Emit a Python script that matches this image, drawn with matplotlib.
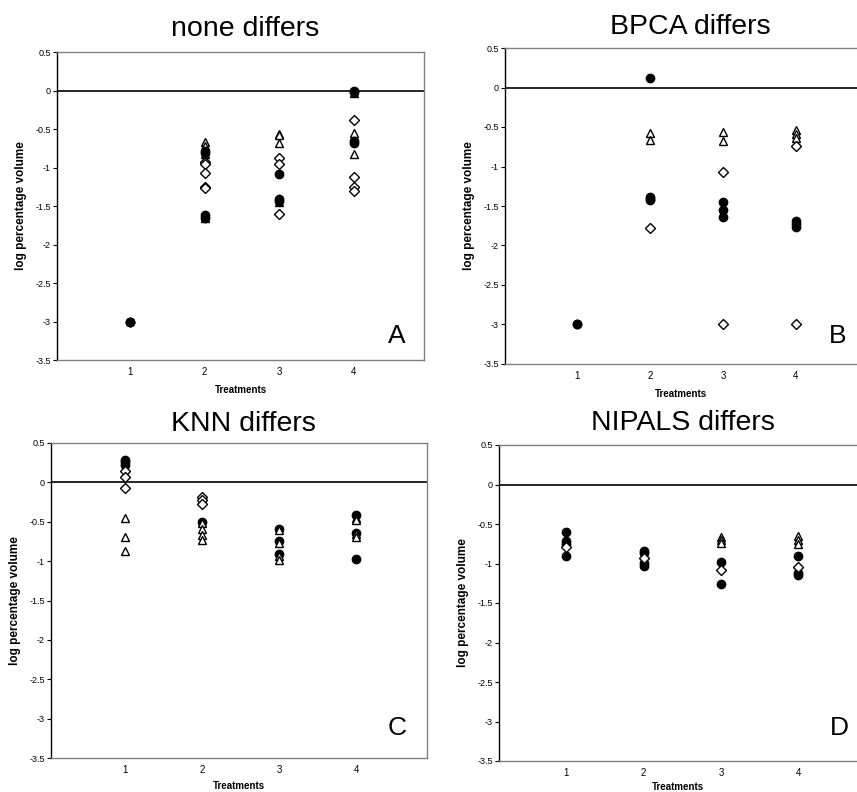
import matplotlib
matplotlib.use("Agg")
import matplotlib.pyplot as plt

plt.rcParams['font.family'] = ['Liberation Sans', 'DejaVu Sans']
plt.rcParams['axes.unicode_minus'] = False

# values per treatment (1..4)
treatments = [1, 2, 3, 4]
yticks = [0.5, 0, -0.5, -1, -1.5, -2, -2.5, -3, -3.5]
ytick_labels = ["0.5", "0", "-0.5", "-1", "-1.5", "-2", "-2.5", "-3", "-3.5"]

titles = ["none differs", "BPCA differs", "KNN differs", "NIPALS differs"]
letters = ["A", "B", "C", "D"]

# panel A - none differs
a_circles = [[-3.0, -3.0, -3.0], [-0.78, -0.81, -1.62, -1.65], [-1.08, -1.41, -1.44], [0.0, -0.02, -0.66, -0.68]]
a_diamonds = [[], [-0.93, -0.95, -1.07, -1.25, -1.27], [-0.88, -0.95, -1.6], [-0.38, -1.12, -1.25, -1.3]]
a_triangles = [[], [-0.67, -0.72, -0.83, -1.66], [-0.56, -0.58, -0.68, -1.45], [-0.55, -0.83, -0.03]]

# panel B - BPCA differs
b_circles = [[-3.0, -3.0], [0.12, -1.38, -1.41, -1.43], [-1.45, -1.55, -1.64], [-1.69, -1.73, -1.76]]
b_diamonds = [[], [-1.78], [-1.07, -3.0], [-0.74, -3.0]]
b_triangles = [[], [-0.58, -0.66], [-0.56, -0.68], [-0.54, -0.59, -0.64]]

# panel C - KNN differs
c_circles = [[0.29, 0.26, 0.22], [-0.5], [-0.59, -0.74, -0.91], [-0.42, -0.64, -0.97]]
c_diamonds = [[0.14, 0.07, -0.07], [-0.18, -0.23, -0.28], [], []]
c_triangles = [[-0.45, -0.69, -0.87], [-0.52, -0.59, -0.67, -0.73], [-0.61, -0.77, -0.94, -0.99], [-0.45, -0.48, -0.66, -0.69]]

# panel D - NIPALS differs
d_circles = [[-0.6, -0.72, -0.75, -0.91], [-0.84, -0.87, -0.99, -1.03], [-0.98, -1.26], [-0.9, -1.12, -1.15]]
d_diamonds = [[-0.79], [-0.93], [-1.08], [-1.05]]
d_triangles = [[], [], [-0.66, -0.7, -0.74], [-0.65, -0.7, -0.75]]


def flatten(groups):
    xs, ys = [], []
    for t, vals in zip(treatments, groups):
        for v in vals:
            xs.append(t)
            ys.append(v)
    return xs, ys


fig = plt.figure(figsize=(8.57, 7.92), dpi=100)

# axes boxes in pixels: left, right, top, bottom ; xlim
boxes = [(57, 424, 52, 360, (0.02, 4.94)),
         (505, 857, 48, 364, (0.01, 4.84)),
         (51, 427, 443, 758, (0.04, 4.92)),
         (499, 857, 445, 761, (0.13, 4.76))]
series = [(a_circles, a_diamonds, a_triangles, True),
          (b_circles, b_diamonds, b_triangles, True),
          (c_circles, c_diamonds, c_triangles, False),
          (d_circles, d_diamonds, d_triangles, False)]
title_pos = [(245, 29), (690, 27), (243, 424), (683, 423)]
letter_pos = [(397, 336), (838, 336), (397, 728), (839, 728)]
xlabel_pad = [6, 6, 4.5, 3]

W, H = 857, 792
for i in range(4):
    l, r, t, b, xl = boxes[i]
    ax = fig.add_axes([l / W, 1 - b / H, (r - l) / W, (b - t) / H])
    circ, diam, tri, circles_on_top = series[i]

    cx, cy = flatten(circ)
    dx, dy = flatten(diam)
    tx, ty = flatten(tri)
    zc = 5 if circles_on_top else 3
    ax.plot(cx, cy, 'o', color='black', markersize=6, zorder=zc, clip_on=False)
    ax.plot(dx, dy, 'D', markerfacecolor='white', markeredgecolor='black',
            markersize=4.6, markeredgewidth=1.0, zorder=4, clip_on=False)
    ax.plot(tx, ty, '^', markerfacecolor='white', markeredgecolor='black',
            markersize=6, markeredgewidth=1.0, zorder=3 if circles_on_top else 5, clip_on=False)

    ax.axhline(0, color='black', linewidth=1.2, zorder=2)
    ax.set_xlim(xl)
    ax.set_ylim(-3.5, 0.5)
    ax.set_yticks(yticks)
    ax.set_yticklabels(ytick_labels)
    ax.set_xticks(treatments)
    ax.set_xticklabels([str(t) for t in treatments])
    ax.tick_params(axis='y', direction='out', length=3, width=0.8, pad=1.5, labelsize=6.5)
    ax.tick_params(axis='x', length=0, pad=5, labelsize=7)

    for side in ['top', 'right', 'bottom']:
        ax.spines[side].set_color('#808080')
        ax.spines[side].set_linewidth(1.0)
    ax.spines['left'].set_color('black')
    ax.spines['left'].set_linewidth(1.0)
    if i in (1, 3):
        ax.spines['right'].set_visible(False)

    ax.set_xlabel('Treatments', fontsize=7, fontweight='bold', labelpad=xlabel_pad[i])
    ax.set_ylabel('log percentage volume', fontsize=8.5, fontweight='bold', labelpad=6)

    tx_, ty_ = title_pos[i]
    fig.text(tx_ / W, 1 - ty_ / H, titles[i], fontsize=20.5, ha='center', va='center')
    lx, ly = letter_pos[i]
    fig.text(lx / W, 1 - ly / H, letters[i], fontsize=19, ha='center', va='center')

fig.savefig('out.png', dpi=100)
